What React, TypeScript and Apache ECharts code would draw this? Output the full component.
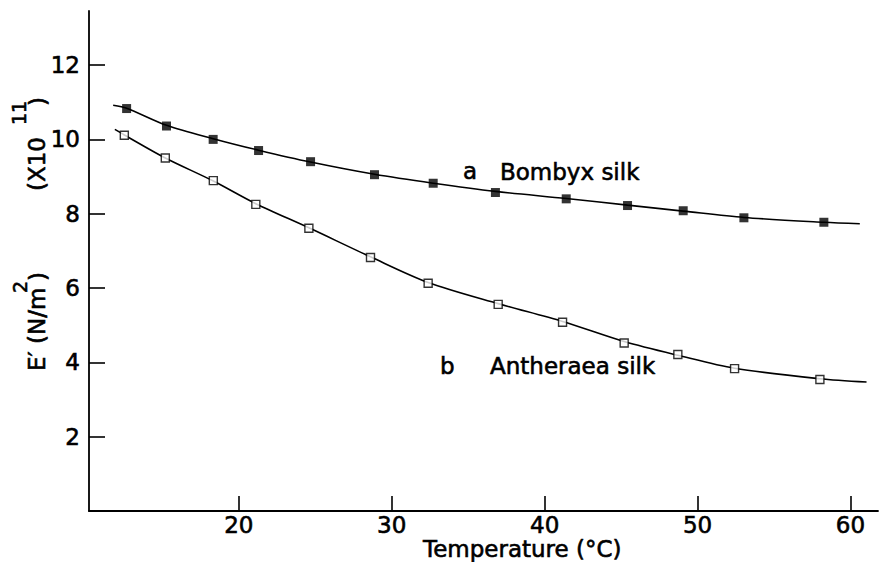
import React, { useEffect, useRef } from "react";
import * as echarts from "echarts";

// Bombyx silk (a) — filled squares
const tempA = [12.66, 15.27, 18.32, 21.29, 24.69, 28.87, 32.71, 36.78, 41.41, 45.42, 49.06, 53.03, 58.26];
const modA = [10.83, 10.36, 10.0, 9.7, 9.4, 9.05, 8.82, 8.57, 8.4, 8.22, 8.08, 7.89, 7.77];
// fitted curve a
const curveTempA = [11.78, 12.66, 15.27, 18.32, 21.29, 24.69, 28.87, 32.71, 36.78, 41.41, 45.42, 49.06, 53.03, 58.26, 60.61];
const curveModA = [10.92, 10.84, 10.38, 10.02, 9.71, 9.39, 9.06, 8.82, 8.6, 8.41, 8.23, 8.07, 7.9, 7.77, 7.73];

// Antheraea silk (b) — open squares
const tempB = [12.51, 15.19, 18.33, 21.11, 24.58, 28.61, 32.38, 36.96, 41.17, 45.2, 48.71, 52.42, 58.0];
const modB = [10.11, 9.5, 8.89, 8.25, 7.61, 6.82, 6.13, 5.56, 5.08, 4.52, 4.21, 3.83, 3.54];
const curveTempB = [11.89, 12.51, 15.19, 18.33, 21.11, 24.58, 28.61, 32.38, 36.96, 41.17, 45.2, 48.71, 52.42, 58.0, 61.05];
const curveModB = [10.27, 10.12, 9.5, 8.88, 8.27, 7.62, 6.84, 6.15, 5.58, 5.1, 4.56, 4.19, 3.84, 3.56, 3.47];

const xTicks = [20, 30, 40, 50, 60];
const yTicks = [2, 4, 6, 8, 10, 12];

const FONT = "DejaVu Sans";

function zip(xs: number[], ys: number[]) {
  return xs.map((x, i) => [x, ys[i]]);
}

export default function App() {
  const ref = useRef<HTMLDivElement>(null);
  useEffect(() => {
    if (!ref.current) return;
    const chart = echarts.init(ref.current, null, { renderer: "svg" });
    const txt = (text: string, x: number, y: number, size = 23, extra: any = {}) => ({
      type: "text",
      x,
      y,
      ...extra,
      style: {
        text,
        fill: "#000",
        stroke: "#000",
        lineWidth: 0.6,
        font: `${size}px "${FONT}"`,
        textAlign: "left",
        textVerticalAlign: "middle",
      },
    });
    const rot = { rotation: Math.PI / 2 };
    chart.setOption({
      animation: false,
      backgroundColor: "#fff",
      grid: { left: 89, top: 11, width: 789, height: 500, containLabel: false },
      xAxis: {
        type: "value",
        min: 10.2,
        max: 61.8,
        axisLine: { show: true, lineStyle: { color: "#000", width: 1.8 } },
        axisTick: { show: true, inside: true, length: 15, customValues: xTicks, lineStyle: { color: "#000", width: 1.6 } },
        axisLabel: {
          customValues: xTicks,
          color: "#000",
          fontFamily: FONT,
          fontSize: 23,
          margin: 2,
          textBorderColor: "#000",
          textBorderWidth: 0.6,
        },
        splitLine: { show: false },
      },
      yAxis: {
        type: "value",
        min: 0,
        max: 13.455,
        axisLine: { show: true, lineStyle: { color: "#000", width: 1.8 } },
        axisTick: { show: true, inside: true, length: 16, customValues: yTicks, lineStyle: { color: "#000", width: 1.6 } },
        axisLabel: {
          customValues: yTicks,
          color: "#000",
          fontFamily: FONT,
          fontSize: 23,
          margin: 9,
          textBorderColor: "#000",
          textBorderWidth: 0.6,
        },
        splitLine: { show: false },
      },
      series: [
        {
          type: "line",
          data: zip(curveTempA, curveModA),
          smooth: 0.3,
          showSymbol: false,
          lineStyle: { color: "#000", width: 1.6 },
          z: 2,
        },
        {
          type: "line",
          data: zip(curveTempB, curveModB),
          smooth: 0.3,
          showSymbol: false,
          lineStyle: { color: "#000", width: 1.6 },
          z: 2,
        },
        {
          type: "scatter",
          data: zip(tempA, modA),
          symbol: "rect",
          symbolSize: 9,
          itemStyle: { color: "#000" },
          z: 3,
        },
        {
          type: "scatter",
          data: zip(tempB, modB),
          symbol: "rect",
          symbolSize: 8,
          itemStyle: { color: "#fff", borderColor: "#000", borderWidth: 1.4 },
          z: 3,
        },
      ],
      graphic: [
        txt("a", 463, 171),
        txt("Bombyx silk", 500, 172),
        txt("b", 440, 366),
        txt("Antheraea silk", 490, 366),
        txt("Temperature (°C)", 423, 549),
        // y-axis title, rotated, reading bottom to top
        txt("E′ (N/m", 37, 371, 23, rot),
        txt("2", 20, 293, 19, rot),
        txt(")", 38, 281, 23, rot),
        txt("(X10", 37, 191, 23, rot),
        txt("11", 19, 125, 19, rot),
        txt(")", 38, 106, 23, rot),
      ],
    });
    return () => chart.dispose();
  }, []);
  return (
    <div
      ref={ref}
      style={{ position: "fixed", left: 0, top: 0, width: 879, height: 562, background: "#fff" }}
    />
  );
}
